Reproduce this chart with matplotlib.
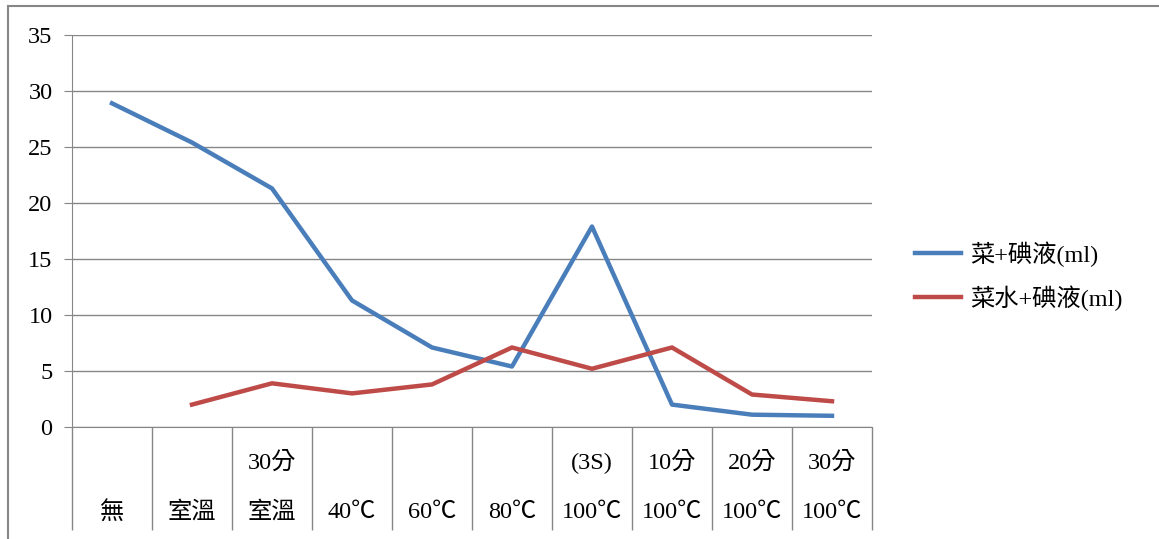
import numpy as np
import matplotlib
matplotlib.use("Agg")
import matplotlib.pyplot as plt
from matplotlib.patches import Rectangle

plt.rcParams['font.family'] = ['Liberation Serif', 'Noto Sans CJK TC', 'DejaVu Sans']

# category labels (two rows)
top_labels = ["", "", "30分", "", "", "", "(3S)", "10分", "20分", "30分"]
bottom_labels = ["無", "室溫", "室溫", "40℃", "60℃", "80℃", "100℃", "100℃", "100℃", "100℃"]

# series values
veg_iodine = [28.9, 25.4, 21.3, 11.3, 7.1, 5.4, 17.9, 2.0, 1.1, 1.0]
vegwater_iodine = [np.nan, 2.0, 3.9, 3.0, 3.8, 7.1, 5.2, 7.1, 2.9, 2.3]
series_names = ["菜+碘液(ml)", "菜水+碘液(ml)"]

grid_c = "#868686"
fs = 17.5

fig = plt.figure(figsize=(11.59, 5.39), dpi=100)
ax = fig.add_axes([72/1159, 1-427/539, 800/1159, 392/539])

x = np.arange(len(bottom_labels))
ax.plot(x, veg_iodine, color="#4A7EBB", lw=3.2, label=series_names[0], solid_joinstyle="round")
ax.plot(x, vegwater_iodine, color="#BE4B48", lw=3.2, label=series_names[1], solid_joinstyle="round")

ax.set_xlim(-0.5, len(x) - 0.5)
ax.set_ylim(0, 35)
ax.set_yticks(range(0, 36, 5))
ax.yaxis.grid(True, color=grid_c, lw=1)
ax.set_axisbelow(True)
for s in ["top", "right"]:
    ax.spines[s].set_visible(False)
for s in ["left", "bottom"]:
    ax.spines[s].set_color(grid_c)
ax.tick_params(axis="y", length=6, color=grid_c, labelsize=fs, pad=8)

# category separators as long ticks
ax.set_xticks(np.arange(-0.5, len(x), 1.0))
ax.set_xticklabels([])
ax.tick_params(axis="x", length=74, color=grid_c, width=1)

tr = ax.get_xaxis_transform()
for i in range(len(x)):
    if top_labels[i]:
        ax.text(i, -0.092, top_labels[i], transform=tr, ha="center", va="center", fontsize=fs)
    ax.text(i, -0.219, bottom_labels[i], transform=tr, ha="center", va="center", fontsize=fs)

ax.legend(loc="center left", bbox_to_anchor=(1.054, 0.385), frameon=False, fontsize=fs,
          borderaxespad=0, borderpad=0, handlelength=1.9, handletextpad=0.35, labelspacing=0.75)

# outer chart border
fig.patches.append(Rectangle((8/1159, -0.1), 1.2, 1 - 6/539 + 0.1, transform=fig.transFigure,
                             fill=False, edgecolor=grid_c, lw=1.5))

fig.savefig("out.png", dpi=100)
